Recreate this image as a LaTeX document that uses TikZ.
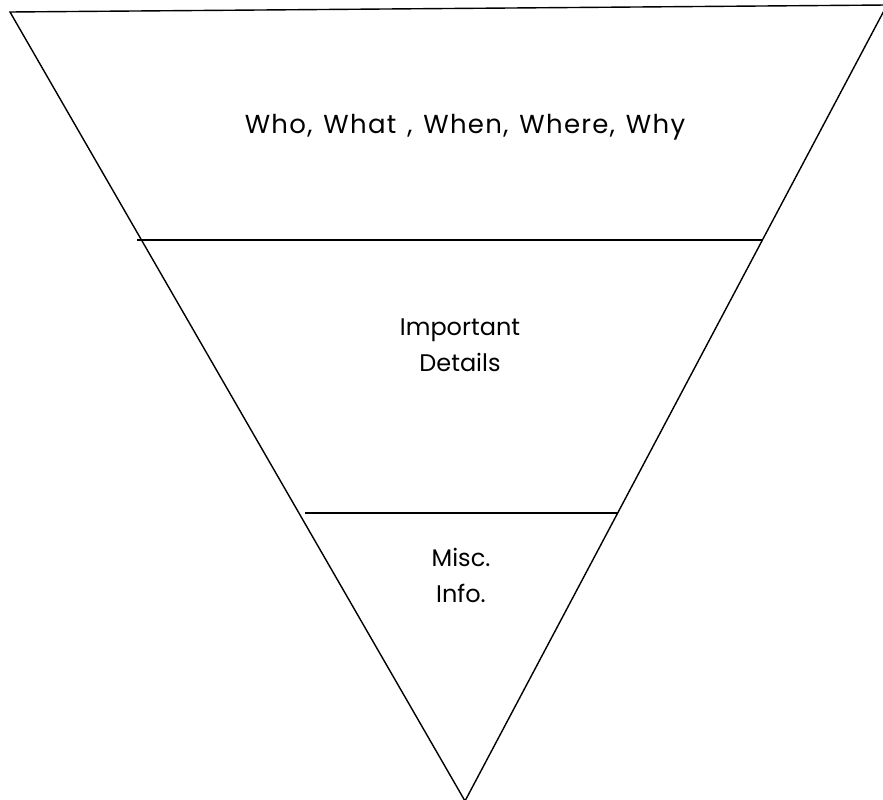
\documentclass[tikz,border=0pt]{standalone}
\usepackage{fontspec}
\setmainfont{Poppins}
\newfontfamily\widefamily[LetterSpace=5]{Poppins}
\newcommand\mywidefont{\widefamily\fontsize{26}{36}\selectfont\spaceskip=0.42em plus 0pt\relax}
\begin{document}
\begin{tikzpicture}[x=1pt,y=-1pt,
  edge/.style={line width=1.4pt,black},
  label/.style={font=\fontsize{24}{36}\selectfont,align=center,anchor=base,inner sep=0pt},
  wide/.style={font=\mywidefont}]
\useasboundingbox (0,0) rectangle (883,800);
\clip (0,0) rectangle (883,800);
\coordinate (tl) at (10,12);
\coordinate (tr) at (887,5);
\coordinate (bot) at (465,801);
\coordinate (l1a) at (137,240);
\coordinate (l1b) at (762,240);
\coordinate (l2a) at (305,513);
\coordinate (l2b) at (618,513);
\draw[edge,line join=miter] (tr) -- (tl) -- (bot) -- cycle;
\draw[edge] (l1a) -- (l1b);
\draw[edge] (l2a) -- (l2b);
\node[label,wide] (top) at (465,133) {Who, What , When, Where, Why};
\node[label] (mid) at (460,371) {Important\\Details};
\node[label] (low) at (461,602) {Misc.\\Info.};
\end{tikzpicture}
\end{document}
